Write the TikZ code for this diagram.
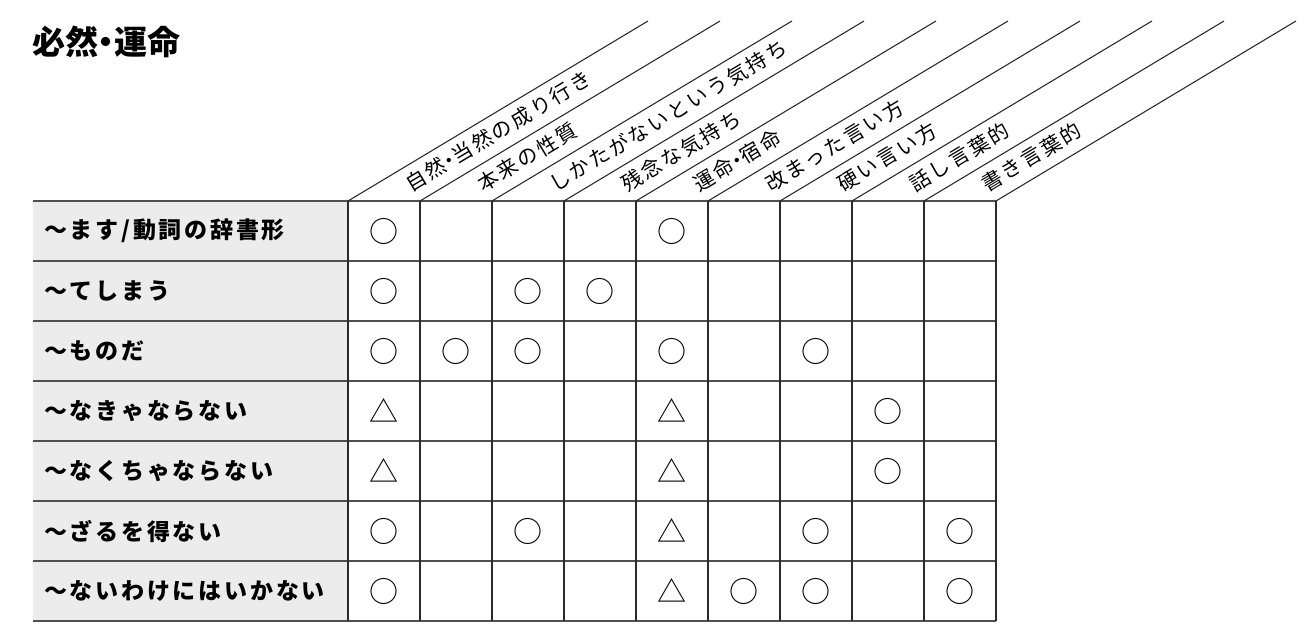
\documentclass[tikz,border=0pt]{standalone}
\usepackage{fontspec}
\usepackage{tikz}
\usetikzlibrary{positioning}
\newfontfamily\jpfont{Noto Sans CJK JP}
\newfontfamily\jptitle[RawFeature=+palt]{Noto Sans CJK JP}
\newfontfamily\jprow[LetterSpace=12]{Noto Sans CJK JP}
\newfontfamily\jphead[LetterSpace=12]{Noto Sans CJK JP}
\newcommand{\middot}{\kern-5pt・\kern-5pt}
\definecolor{rowgray}{HTML}{ECECEC}
\definecolor{rulegray}{HTML}{505050}
\definecolor{inkgray}{HTML}{2A2A2A}

\begin{document}
\begin{tikzpicture}[x=1pt, y=-1pt,
    rowlabel/.style={anchor=west, inner sep=0pt, font=\jprow\bfseries\fontsize{23}{23}\selectfont},
    colhead/.style={anchor=west, inner sep=0pt, rotate=31, font=\jphead\fontsize{20.5}{20.5}\selectfont},
    cellmark/.style={inner sep=0pt, font=\jpfont\fontsize{29}{29}\selectfont},
    hrule/.style={draw=rulegray, line width=1.8pt},
    vrule/.style={draw=inkgray, line width=1.2pt},
    slant/.style={draw=inkgray, line width=1.1pt}]
        \useasboundingbox (0,0) rectangle (1315,637);

        % Title
        \node[anchor=west, inner sep=0pt, font=\jptitle\bfseries\fontsize{33}{33}\selectfont] (title) at (32,42) {必然・運命};

        % Label column
        \fill[rowgray] (33,201) rectangle (348,621);

        % Grid
        \foreach \i in {0,...,7} \draw[hrule] (33,201+60*\i) -- (996,201+60*\i);
        \foreach \j in {0,...,9} {
            \draw[vrule] (348+72*\j,201) -- (348+72*\j,621);
            \draw[slant] (348+72*\j,201) -- ++(300,-180);
        }

        % Row labels
        \node[rowlabel] (r1) at (44,231) {〜ます/動詞の辞書形};
        \node[rowlabel] (r2) at (44,291) {〜てしまう};
        \node[rowlabel] (r3) at (44,351) {〜ものだ};
        \node[rowlabel] (r4) at (44,411) {〜なきゃならない};
        \node[rowlabel] (r5) at (44,471) {〜なくちゃならない};
        \node[rowlabel] (r6) at (44,531) {〜ざるを得ない};
        \node[rowlabel] (r7) at (44,591) {〜ないわけにはいかない};

        % Column heads
        \node[colhead] (h1) at (407,186) {自然\middot 当然の成り行き};
        \node[colhead] (h2) at (479,186) {本来の性質};
        \node[colhead] (h3) at (551,186) {しかたがないという気持ち};
        \node[colhead] (h4) at (623,186) {残念な気持ち};
        \node[colhead] (h5) at (695,186) {運命\middot 宿命};
        \node[colhead] (h6) at (767,186) {改まった言い方};
        \node[colhead] (h7) at (839,186) {硬い言い方};
        \node[colhead] (h8) at (911,186) {話し言葉的};
        \node[colhead] (h9) at (983,186) {書き言葉的};

        % Marks
        \node[cellmark] (m11) at (384,231) {○};
        \node[cellmark] (m15) at (672,231) {○};
        \node[cellmark] (m21) at (384,291) {○};
        \node[cellmark] (m23) at (528,291) {○};
        \node[cellmark] (m24) at (600,291) {○};
        \node[cellmark] (m31) at (384,351) {○};
        \node[cellmark] (m32) at (456,351) {○};
        \node[cellmark] (m33) at (528,351) {○};
        \node[cellmark] (m35) at (672,351) {○};
        \node[cellmark] (m37) at (816,351) {○};
        \node[cellmark] (m41) at (384,411) {△};
        \node[cellmark] (m45) at (672,411) {△};
        \node[cellmark] (m48) at (888,411) {○};
        \node[cellmark] (m51) at (384,471) {△};
        \node[cellmark] (m55) at (672,471) {△};
        \node[cellmark] (m58) at (888,471) {○};
        \node[cellmark] (m61) at (384,531) {○};
        \node[cellmark] (m63) at (528,531) {○};
        \node[cellmark] (m65) at (672,531) {△};
        \node[cellmark] (m67) at (816,531) {○};
        \node[cellmark] (m69) at (960,531) {○};
        \node[cellmark] (m71) at (384,591) {○};
        \node[cellmark] (m75) at (672,591) {△};
        \node[cellmark] (m76) at (744,591) {○};
        \node[cellmark] (m77) at (816,591) {○};
        \node[cellmark] (m79) at (960,591) {○};
\end{tikzpicture}
\end{document}
